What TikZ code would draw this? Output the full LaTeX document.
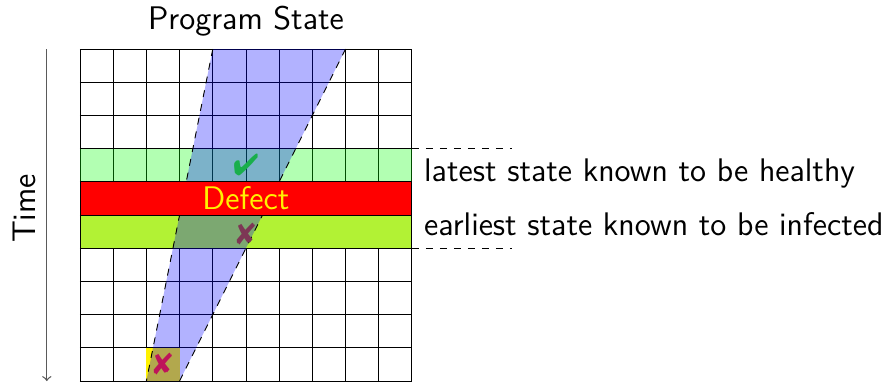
\documentclass[tikz,border=0pt]{standalone}
\usepackage{pifont}
\definecolor{healthy}{RGB}{0,255,0}
\definecolor{infected}{RGB}{178,242,52}
\definecolor{checkgreen}{RGB}{25,175,75}
\definecolor{crossA}{RGB}{190,20,90}
\definecolor{crossB}{RGB}{125,55,85}
\definecolor{timegray}{RGB}{90,90,90}
\begin{document}
\begin{tikzpicture}[x=0.5cm,y=0.5cm,
  every node/.style={font=\sffamily\fontsize{14}{16}\selectfont},
  band/.style={draw=black},
  wedgeedge/.style={dashed},
  guide/.style={dashed},
  mark symbol/.style={inner sep=0pt,font=\fontsize{13}{15}\selectfont}]
\useasboundingbox (-2.41,-10.03) rectangle (24.19,1.478);
% grid
\draw[step=0.5cm] (0,0) grid (10,-10);
% bands
\fill[healthy,opacity=0.3] (0,-3) rectangle (10,-4);
\draw[band,fill=infected] (0,-5) rectangle (10,-6);
\fill[yellow] (2,-9) rectangle (3,-10);
% wedge
\coordinate (wtl) at (4,0);
\coordinate (wtr) at (8,0);
\coordinate (wbl) at (2,-10);
\coordinate (wbr) at (3,-10);
\fill[blue,opacity=0.3] (wtl) -- (wtr) -- (wbr) -- (wbl) -- cycle;
\draw[wedgeedge] (wtl) -- (wbl);
\draw[wedgeedge] (wtr) -- (wbr);
% defect band
\draw[band,fill=red] (0,-4) rectangle (10,-5);
\node[text=yellow,inner sep=0pt] (defect) at (5,-4.48) {Defect};
% marks
\node[mark symbol,text=crossB] (xmid) at (5,-5.56) {\ding{56}};
\node[mark symbol,text=checkgreen] (check) at (5,-3.5) {\ding{52}};
\node[mark symbol,text=crossA] (xbot) at (2.5,-9.5) {\ding{56}};
% guides
\coordinate (g1a) at (10,-3);
\coordinate (g1b) at (13,-3);
\coordinate (g2a) at (10,-6);
\coordinate (g2b) at (13,-6);
\draw[guide] (g1a) -- (g1b);
\draw[guide] (g2a) -- (g2b);
\node[anchor=base west] (lhealthy) at (10.12,-4.0) {latest state known to be healthy};
\node[anchor=base west] (linfected) at (10.12,-5.63) {earliest state known to be infected};
% axes labels
\node[anchor=base] (pstate) at (5,0.58) {Program State};
\coordinate (ttop) at (-1,0);
\coordinate (tbot) at (-1,-10);
\draw[timegray,line width=0.55pt,->] (ttop) -- (tbot);
\node[rotate=90,anchor=base] (time) at (-1.33,-4.8) {Time};
\end{tikzpicture}
\end{document}
